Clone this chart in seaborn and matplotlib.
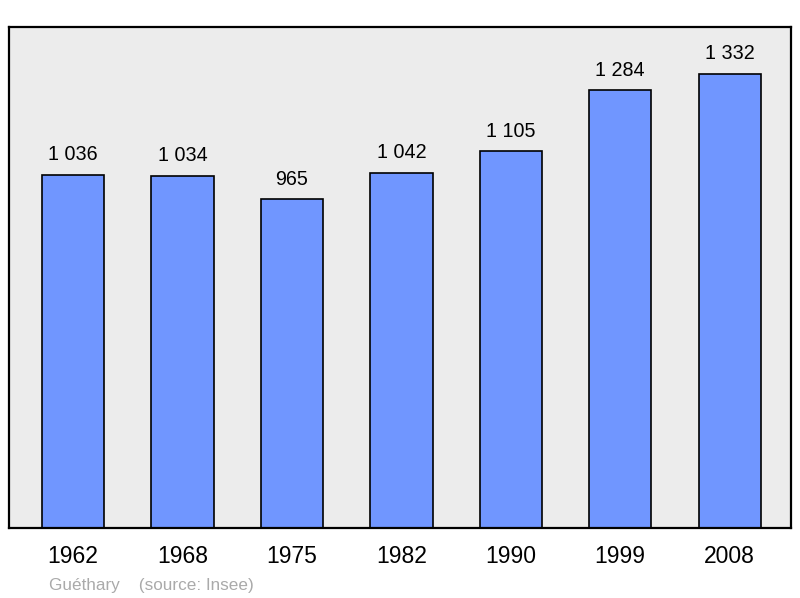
import seaborn as sns
import matplotlib.pyplot as plt
import pandas as pd

# Données de population
annees = ['1962', '1968', '1975', '1982', '1990', '1999', '2008']
population = [1036, 1034, 965, 1042, 1105, 1284, 1332]
etiquettes = ['1 036', '1 034', '965', '1 042', '1 105', '1 284', '1 332']
source = 'Guéthary    (source: Insee)'

df = pd.DataFrame({'annee': annees, 'pop': population})

sns.set_style('white')
plt.rcParams['font.family'] = ['Liberation Sans', 'DejaVu Sans']

fig = plt.figure(figsize=(8, 5.98), dpi=100)
ax = fig.add_axes([9 / 800, 70 / 598, 782 / 800, 501 / 598])
ax.set_facecolor('#ececec')

sns.barplot(data=df, x='annee', y='pop', color='#7096ff', saturation=1,
            width=0.57, edgecolor='black', linewidth=1.2, ax=ax)

# Etiquettes au-dessus des barres
for i, (v, t) in enumerate(zip(population, etiquettes)):
    ax.annotate(t, (i, v), xytext=(0, 10.5), textcoords='offset points',
                ha='center', va='baseline', fontsize=14.2, color='black')

ax.set_xlim(-0.584, 6.56)
ax.set_ylim(0, 1470)
ax.set_yticks([])
ax.set_xlabel('')
ax.set_ylabel('')
ax.tick_params(axis='x', length=0, pad=12, labelsize=16.5, labelcolor='black')
for s in ax.spines.values():
    s.set_visible(True)
    s.set_color('black')
    s.set_linewidth(1.6)

fig.text(49 / 800, 1 - 590 / 598, source, fontsize=12.3, color='#aaaaaa',
         ha='left', va='baseline')

fig.savefig('out.png', dpi=100)
